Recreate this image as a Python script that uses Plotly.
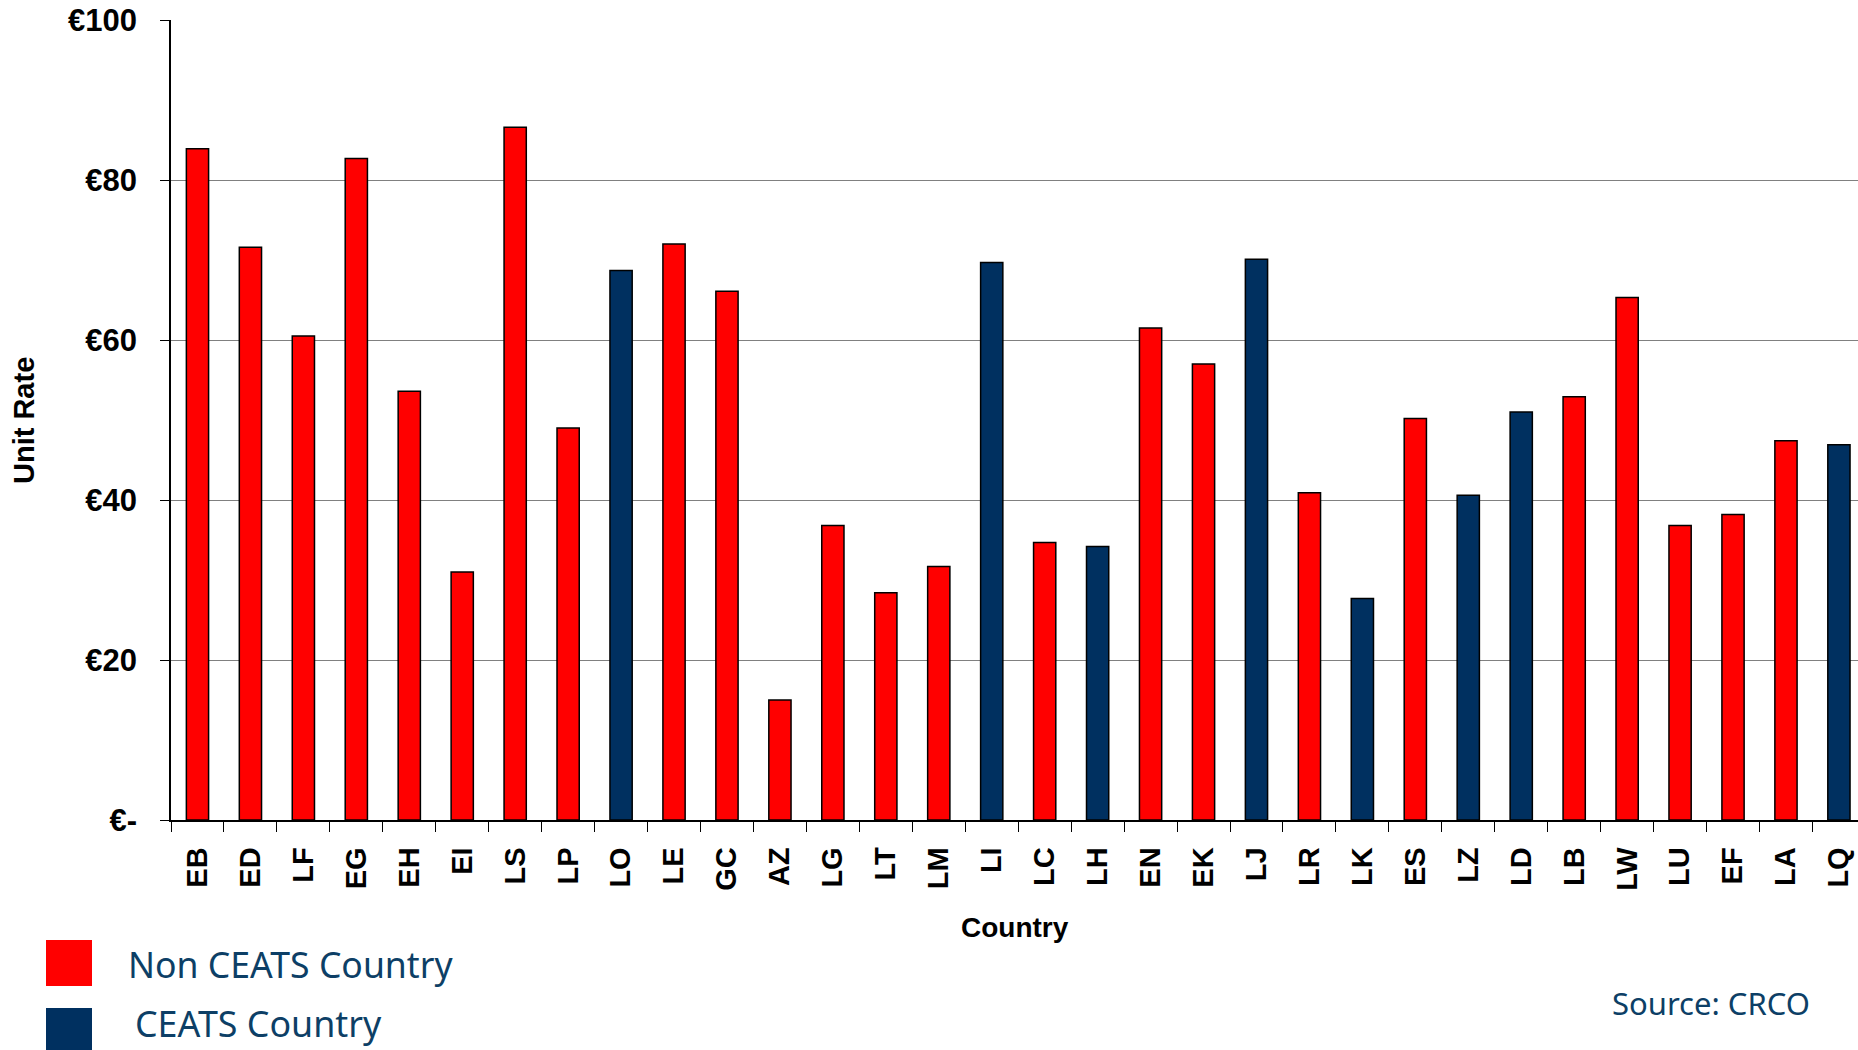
import plotly.graph_objects as go

countries = ["EB", "ED", "LF", "EG", "EH", "EI", "LS", "LP", "LO", "LE", "GC", "AZ",
             "LG", "LT", "LM", "LI", "LC", "LH", "EN", "EK", "LJ", "LR", "LK", "ES",
             "LZ", "LD", "LB", "LW", "LU", "EF", "LA", "LQ"]
unit_rate = [83.9, 71.6, 60.5, 82.7, 53.6, 31.0, 86.6, 49.0, 68.7, 72.0, 66.1, 15.0,
             36.8, 28.4, 31.7, 69.7, 34.7, 34.2, 61.5, 57.0, 70.1, 40.9, 27.7, 50.2,
             40.6, 51.0, 52.9, 65.3, 36.8, 38.2, 47.4, 46.9]
ceats = [0, 0, 0, 0, 0, 0, 0, 0, 1, 0, 0, 0,
         0, 0, 0, 1, 0, 1, 0, 0, 1, 0, 1, 0,
         1, 1, 0, 0, 0, 0, 0, 1]
ytick_vals = [0, 20, 40, 60, 80, 100]
ytick_text = ["€-", "€20", "€40", "€60", "€80", "€100"]
legend_labels = ["Non CEATS Country", "CEATS Country"]
source_text = "Source: CRCO"

RED = "#FF0000"
NAVY = "#003060"
TXT = "#0d3f66"

W, H = 1858, 1050
L, R, T, B = 171, 0, 20, 230
pw, ph = W - L - R, H - T - B
cat_w = 52.95

def px_x(px):
    return (px - L) / pw

def px_y(py):
    return (H - B - py) / ph

colors = [NAVY if c else RED for c in ceats]

fig = go.Figure()
fig.add_trace(go.Bar(
    x=countries, y=unit_rate, width=0.42,
    marker=dict(color=colors, line=dict(color="black", width=1.5)),
    showlegend=False,
))

x_end = -0.5 + pw / cat_w

fig.update_layout(
    width=W, height=H,
    margin=dict(l=L, r=R, t=T, b=B, pad=0),
    plot_bgcolor="white", paper_bgcolor="white",
    bargap=0.58,
    xaxis=dict(
        type="category", range=[-0.5, x_end],
        showline=True, linecolor="black", linewidth=1.5,
        ticks="outside", tickson="boundaries", ticklen=10, tickcolor="black", tickwidth=1,
        tickangle=-90, ticklabelstandoff=14,
        tickfont=dict(family="Liberation Sans", size=29, color="black", weight="bold"),
        showgrid=False,
    ),
    yaxis=dict(
        range=[0, 100], tickvals=ytick_vals, ticktext=ytick_text,
        showline=True, linecolor="black", linewidth=1.5,
        ticks="outside", ticklen=9, tickcolor="black", tickwidth=1,
        ticklabelstandoff=17,
        tickfont=dict(family="Liberation Sans", size=31, color="black", weight="bold"),
        showgrid=True, gridcolor="#808080", gridwidth=1.2,
        zeroline=False,
    ),
)

annotations = [
    dict(text="Country", x=0.5, y=px_y(927), xref="paper", yref="paper",
         showarrow=False, xanchor="center", yanchor="middle",
         font=dict(family="Liberation Sans", size=28, color="black", weight="bold")),
    dict(text="Unit Rate", x=px_x(24), y=px_y(421), xref="paper", yref="paper",
         showarrow=False, xanchor="center", yanchor="middle", textangle=-90,
         font=dict(family="Liberation Sans", size=29, color="black", weight="bold")),
    dict(text=legend_labels[0], x=px_x(126), y=px_y(964), xref="paper", yref="paper",
         showarrow=False, xanchor="left", yanchor="middle",
         font=dict(family="Noto Sans", size=35.6, color=TXT)),
    dict(text=legend_labels[1], x=px_x(133), y=px_y(1049), xref="paper", yref="paper",
         showarrow=False, xanchor="left", yanchor="bottom",
         font=dict(family="Noto Sans", size=35.8, color=TXT)),
    dict(text=source_text, x=px_x(1610), y=px_y(1003), xref="paper", yref="paper",
         showarrow=False, xanchor="left", yanchor="middle",
         font=dict(family="Noto Sans", size=31, color=TXT)),
]
fig.update_layout(annotations=annotations)

shapes = [
    dict(type="rect", xref="paper", yref="paper",
         x0=px_x(46), x1=px_x(92), y0=px_y(986), y1=px_y(940),
         fillcolor=RED, line=dict(width=0)),
    dict(type="rect", xref="paper", yref="paper",
         x0=px_x(46), x1=px_x(92), y0=px_y(1054), y1=px_y(1008),
         fillcolor=NAVY, line=dict(width=0)),
]
fig.update_layout(shapes=shapes)

fig.write_html("out.html")
